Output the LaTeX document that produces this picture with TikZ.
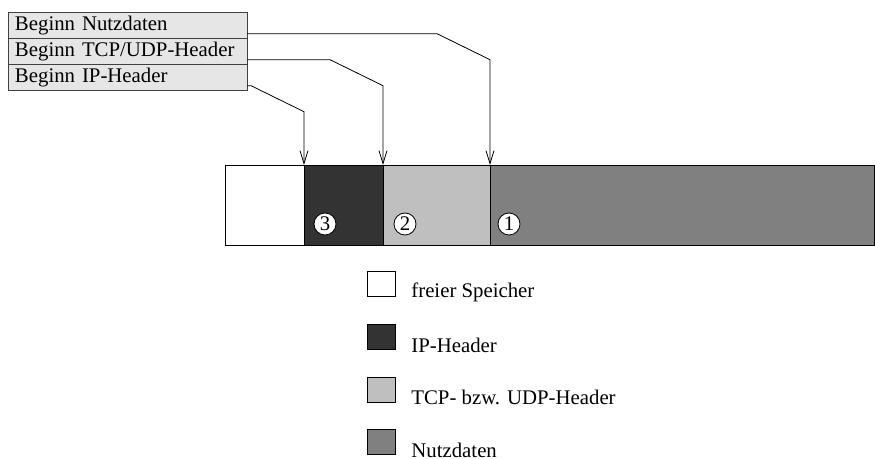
\documentclass[tikz,border=0pt]{standalone}
\usepackage{fontspec}
\setmainfont{Liberation Serif}
\usetikzlibrary{positioning,calc,arrows.meta}
\definecolor{boxgray}{RGB}{230,230,230}
\definecolor{ipgray}{RGB}{51,51,51}
\definecolor{tcpgray}{RGB}{191,191,191}
\definecolor{datagray}{RGB}{128,128,128}

\begin{document}
\begin{tikzpicture}[x=0.5pt,y=-0.5pt,every node/.style={font=\fontsize{10.4}{12}\selectfont},
    >={Straight Barb[length=6.5pt,width=4pt]},
    rowbox/.style={draw=black!75,fill=boxgray,text width=112.5pt,align=left,minimum height=13pt,inner sep=0pt,inner xsep=3.5pt,outer sep=0pt},
    seg/.style={draw,minimum height=40pt,inner sep=0pt,outer sep=0pt},
    num/.style={draw,circle,fill=white,minimum size=11pt,inner sep=0pt},
    legbox/.style={draw,minimum width=14pt,minimum height=12.5pt,inner sep=0pt,outer sep=0pt},
    legtext/.style={inner sep=0pt}]
    \useasboundingbox (0,0) rectangle (875,459);
    % pointer table
    \node[rowbox,anchor=north west] (rnutz) at (8,12.7) {Beginn Nutzdaten};
    \node[rowbox,below=0pt of rnutz] (rtcp) {Beginn TCP/UDP-Header};
    \node[rowbox,below=0pt of rtcp] (rip) {Beginn IP-Header};
    % buffer
    \node[seg,fill=white,minimum width=39.5pt,anchor=north west] (sfrei) at (225,165) {};
    \node[seg,fill=ipgray,minimum width=39.5pt,right=0pt of sfrei] (sip) {};
    \node[seg,fill=tcpgray,minimum width=53.5pt,right=0pt of sip] (stcp) {};
    \node[seg,fill=datagray,minimum width=192.25pt,right=0pt of stcp] (snutz) {};
    \node[num] (n3) at ([shift={(10.5pt,10.5pt)}]sip.south west) {3};
    \node[num] (n2) at ([shift={(11pt,10.5pt)}]stcp.south west) {2};
    \node[num] (n1) at ([shift={(9.5pt,10.5pt)}]snutz.south west) {1};
    % pointers
    \coordinate (pnutz) at ([yshift=-4pt]rnutz.east);
    \coordinate (ptcp) at ([yshift=-4pt]rtcp.east);
    \coordinate (pip) at ([yshift=-4pt]rip.east);
    \draw[->] (pnutz) -- ($(pnutz -| snutz.north west)+(-26.5pt,0)$) -- ++(26.5pt,-13pt) -- (snutz.north west);
    \draw[->] (ptcp) -- ($(ptcp -| stcp.north west)+(-26.5pt,0)$) -- ++(26.5pt,-13pt) -- (stcp.north west);
    \draw[->] (pip) -- ($(pip -| sip.north west)+(-26.5pt,0)$) -- ++(26.5pt,-13pt) -- (sip.north west);
    % legend
    \node[legbox,fill=white,anchor=north west] (lfrei) at (367.3,271.7) {};
    \node[legbox,fill=ipgray,below=13.85pt of lfrei] (lip) {};
    \node[legbox,fill=tcpgray,below=13.85pt of lip] (ltcp) {};
    \node[legbox,fill=datagray,below=13.85pt of ltcp] (lnutz) {};
    \node[legtext,right=7.85pt of lfrei,yshift=-4pt] (tfrei) {freier Speicher};
    \node[legtext,right=7.85pt of lip,yshift=-4pt] (tip) {IP-Header};
    \node[legtext,right=7.85pt of ltcp,yshift=-4pt] (ttcp) {TCP- bzw. UDP-Header};
    \node[legtext,right=7.85pt of lnutz,yshift=-4pt] (tnutz) {Nutzdaten};
\end{tikzpicture}
\end{document}
